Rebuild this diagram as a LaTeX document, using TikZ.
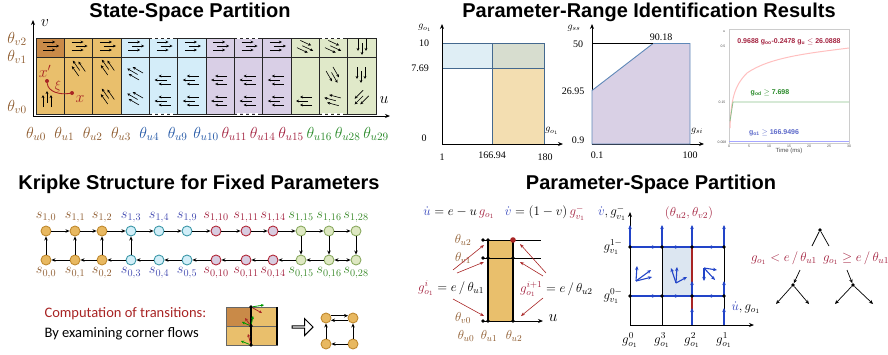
\documentclass[tikz,border=0pt]{standalone}
\usepackage{fix-cm}
\usepackage{amsmath}
\usepackage{fontspec}
\setmainfont{Liberation Serif}
\setsansfont{Liberation Sans}
\newfontfamily\calfont{Carlito}
\usetikzlibrary{arrows.meta,shapes.arrows}

\definecolor{oraC}{HTML}{E9BF6C}
\definecolor{dkC}{HTML}{C98A48}
\definecolor{bluC}{HTML}{D4EDF9}
\definecolor{lavC}{HTML}{D9CFE6}
\definecolor{grnC}{HTML}{E0E9C9}
\definecolor{thO}{HTML}{8E5B2E}
\definecolor{thB}{HTML}{2458A6}
\definecolor{thR}{HTML}{A3223F}
\definecolor{thG}{HTML}{2A8A2A}
\definecolor{redA}{HTML}{A82424}
\definecolor{eqB}{HTML}{3344BB}
\definecolor{flB}{HTML}{2244C8}
\definecolor{kfo}{HTML}{E8B860}\definecolor{kdo}{HTML}{C08A30}\definecolor{klo}{HTML}{8E5B2E}
\definecolor{kfb}{HTML}{D2EEF8}\definecolor{kdb}{HTML}{3C98A8}\definecolor{klb}{HTML}{4048B0}
\definecolor{kfr}{HTML}{D8CCE0}\definecolor{kdr}{HTML}{B22838}\definecolor{klr}{HTML}{A3223F}
\definecolor{kfg}{HTML}{DEE8C2}\definecolor{kdg}{HTML}{8AAA60}\definecolor{klg}{HTML}{3A8A2A}
\definecolor{pA}{HTML}{DFEEF5}
\definecolor{pG}{HTML}{D7DDCF}
\definecolor{pO}{HTML}{F3DEB1}
\definecolor{pL}{HTML}{44698F}
\definecolor{pV}{HTML}{D9D0E5}
\definecolor{pB}{HTML}{5F88B8}
\definecolor{cbg}{HTML}{DCE6F1}

\newcommand\fs[1]{\fontsize{#1}{#1}\selectfont}

\tikzset{flows/.pic={
  \draw[flw] (-7,-4) -- (5,-4);
  \draw[flw] (-3,0) -- (9,0);
  \draw[flw] (-7,4) -- (5,4);
}}

\begin{document}
\begin{tikzpicture}[x=1pt,y=-1pt,
  ttl/.style={font=\sffamily\bfseries\fs{20}},
  flw/.style={-{Stealth[length=3pt,width=2.8pt]},line width=0.6pt},
  cell/.style={draw=black!85,line width=1pt},
  axis/.style={-{Stealth[length=5pt,width=4pt]},line width=0.9pt},
  th/.style={font=\fs{16}},
  sm/.style={font=\fs{13},inner sep=1pt},
  num/.style={font=\fs{10},inner sep=1pt},
  st/.style={circle,line width=0.9pt,minimum size=10pt,inner sep=0pt},
  kar/.style={-{Stealth[length=4pt,width=3.5pt]},line width=0.9pt},
  rar/.style={redA,line width=0.6pt,-{Stealth[length=4pt,width=3pt]}},
  bfl/.style={flB,line width=1.1pt,-{Stealth[length=4pt,width=3.5pt]}},
  dot/.style={circle,fill=black,inner sep=0pt,minimum size=3.6pt},
  tny/.style={font=\sffamily\fs{3.5},text=black!70,inner sep=0.5pt}]
\useasboundingbox (0,0) rectangle (888,354);

% titles
\node[ttl] (ttlA) at (190,12) {State-Space Partition};
\node[ttl] (ttlB) at (649,12) {Parameter-Range Identification Results};
\node[ttl] (ttlC) at (199,184) {Kripke Structure for Fixed Parameters};
\node[ttl] (ttlD) at (651,184) {Parameter-Space Partition};

% state-space partition
\fill[oraC] (36,38) rectangle (121,114);
\fill[dkC] (36,38) rectangle (64.3,57);
\fill[bluC] (121,38) rectangle (206,114);
\fill[lavC] (206,38) rectangle (291,114);
\fill[grnC] (291,38) rectangle (376,114);
\draw[cell] (36,38) rectangle (376,114);
\draw[cell] (36,57) -- (376,57);
\foreach \i in {1,...,11}
  \draw[cell] ({36+28.333*\i},38) -- ++(0,76);
\foreach \i in {4,7,10}{
  \draw[white,line width=1.4pt,dash pattern=on 3pt off 3pt] ({36+28.333*\i+3},38) -- ++(22,0);
  \draw[white,line width=1.4pt,dash pattern=on 3pt off 3pt] ({36+28.333*\i+3},114) -- ++(22,0);
}
\draw[axis] (33,116) -- (33,20);
\draw[axis] (33,116) -- (390,116);
\node[th] (vlab) at (45,23) {$v$};
\node[th] (ulab) at (384,100) {$u$};
\node[th,text=thO] (v2) at (17,39) {$\theta_{v2}$};
\node[th,text=thO] (v1) at (17,57) {$\theta_{v1}$};
\node[th,text=thO] (v0) at (17,107) {$\theta_{v0}$};
\foreach \i/\n/\c in {0/0/thO,1/1/thO,2/2/thO,3/3/thO,4/4/thB,5/9/thB,6/10/thB,7/11/thR,8/14/thR,9/15/thR,10/16/thG,11/28/thG,12/29/thG}
  \node[th,text=\c] (u\n) at ({36+28.333*\i},134) {$\theta_{u\n}$};
% flows, top row
\foreach \i in {0,...,8}
  \pic at ({50.2+28.333*\i},46) {flows};
\pic[rotate=-25] at (305,47) {flows};
\pic[rotate=-25] at (333,47) {flows};
\pic[rotate=-90] at (362,46) {flows};
% flows, bottom row
\pic[rotate=90] at (47,100) {flows};
\pic[rotate=125] at (78,68) {flows};
\pic[rotate=125] at (107,67) {flows};
\pic[rotate=125] at (107,96) {flows};
\pic[rotate=150] at (135,73) {flows};
\pic[rotate=150] at (135,98) {flows};
\foreach \i in {4,...,8}{
  \pic[rotate=180] at ({50.2+28.333*\i},80) {flows};
  \pic[rotate=180] at ({50.2+28.333*\i},101) {flows};
}
\pic[rotate=180] at (305,101) {flows};
\pic[rotate=-60] at (333,75) {flows};
\pic[rotate=165] at (333,100) {flows};
\pic[rotate=-90] at (361,74) {flows};
\pic[rotate=-135] at (361,98) {flows};
% trajectory
\node[circle,fill=redA,inner sep=0pt,minimum size=4pt] (xp) at (47,81) {};
\node[circle,fill=redA,inner sep=0pt,minimum size=4pt] (xd) at (72,93) {};
\draw[redA,line width=0.9pt] (xp) .. controls (48,92) and (60,95) .. (xd);
\node[th,text=redA] (xpl) at (45,71) {$x'$};
\node[th,text=redA,font=\fs{13}] (xil) at (58,86) {$\xi$};
\node[th,text=redA] (xl) at (80,99) {$x$};

% parameter-range plot 1
\fill[pA] (442,43) rectangle (492,68);
\fill[pG] (492,43) rectangle (544,68);
\fill[pO] (492,68) rectangle (544,144);
\draw[pL,line width=0.9pt] (442,43) -- (544,43) (442,68) -- (544,68) (492,43) -- (492,144) (544,43) -- (544,144);
\draw[axis] (442,144) -- (442,24);
\draw[axis] (442,144) -- (563,144);
\node[num] (pa10) at (424,43) {10};
\node[num] (pa7) at (420,68) {7.69};
\node[num] (pa0) at (424,138) {0};
\node[num] (pa1) at (442,157) {1};
\node[num] (pa16) at (492,155) {166.94};
\node[num] (pa18) at (545,157) {180};
\node[num] (pay) at (425,28) {$g_{o_1}$};
\node[num] (pax) at (552,131) {$g_{o_1}$};

% parameter-range plot 2
\draw[axis] (592,144) -- (592,24);
\draw[axis] (592,144) -- (704,144);
\filldraw[fill=pV,draw=pB,line width=0.9pt] (592,144) -- (592,90.5) -- (653,43.5) -- (690,43.5) -- (690,144) -- cycle;
\draw[line width=1pt] (592,43.5) -- (653,43.5);
\node[num] (pb50) at (578,44) {50};
\node[num] (pb26) at (573,91) {26.95};
\node[num] (pb09) at (578,140) {0.9};
\node[num] (pb90) at (661,37) {90.18};
\node[num] (pb01) at (597,155) {0.1};
\node[num] (pb100) at (690,155) {100};
\node[num] (pby) at (574,28) {$g_{ss}$};
\node[num] (pbx) at (697,131) {$g_{si}$};

% parameter-range plot 3
\draw[black!20,line width=0.6pt] (729,29) rectangle (849,143);
\draw[red!25,line width=1pt] (730,128) .. controls (731,100) and (734,86) .. (747,73) .. controls (770,57) and (810,53) .. (849,48);
\draw[green!45!black!45,line width=0.8pt] (730,121) -- (733,102) -- (849,102);
\draw[blue!35,line width=0.8pt] (729,141) -- (849,141);
\node[font=\sffamily\bfseries\fs{7},text=thR] (c1) at (789,42) {0.9688 g\textsubscript{oo}-0.2478 g\textsubscript{u} $\le$ 26.0888};
\node[font=\sffamily\bfseries\fs{7},text=thG] (c2) at (770,93) {g\textsubscript{od} $\ge$ 7.698};
\node[font=\sffamily\bfseries\fs{7},text=eqB!80] (c3) at (774,133) {g\textsubscript{o1} $\ge$ 166.9496};
\node[tny] (cu) at (724,32) {u};
\node[tny] (c05) at (723,46) {0.5};
\node[tny] (c15) at (722,102) {0.15};
\node[tny] (c008) at (722,142) {0.008};
\foreach \k/\t in {0/0,1/5,2/10,3/15,4/20,5/25,6/30}
  \node[tny] (tk\k) at ({729+20*\k},146.5) {\t};
\node[font=\sffamily\fs{6},text=black!70,inner sep=0.5pt] (ctime) at (789,151) {Time (ms)};

% kripke structure
\foreach \x/\a/\b/\k [count=\i from 0] in {46/0/0/o,75/1/1/o,102/2/2/o,131/3/3/b,159/4/4/b,187/9/5/b,216/10/10/r,246/11/11/r,273/14/14/r,301/15/15/g,329/16/16/g,356/28/28/g}{
  \node[st,fill=kf\k,draw=kd\k,label={[font=\fs{14.5},text=kl\k,inner sep=1pt,label distance=1.5pt]above:{$s_{1,\a}$}}] (t\i) at (\x,231) {};
  \node[st,fill=kf\k,draw=kd\k,label={[font=\fs{14.5},text=kl\k,inner sep=1pt,label distance=1pt]below:{$s_{0,\b}$}}] (b\i) at (\x,260) {};
}
\foreach \i [count=\j from 1] in {0,...,10}
  \draw[kar] (t\i) -- (t\j);
\foreach \i [count=\j from 1] in {0,...,9}
  \draw[kar] (b\j) -- (b\i);
\draw[{Stealth[length=4pt,width=3.5pt]}-{Stealth[length=4pt,width=3.5pt]},line width=0.9pt] (b10) -- (b11);
\foreach \i in {0,1,2,3}
  \draw[kar] (b\i) -- (t\i);
\foreach \i in {9,10,11}
  \draw[kar] (t\i) -- (b\i);

% corner flows
\node[anchor=west,font=\calfont\fs{14.5},text=redA] (comp) at (41,314) {Computation of transitions:};
\node[anchor=west,font=\calfont\fs{14.5}] (exam) at (41,334) {By examining corner flows};
\fill[oraC] (226,307) rectangle (277,345);
\fill[dkC] (226,307) rectangle (251,326);
\draw[black!60,line width=0.6pt] (226,307) rectangle (277,345) (226,326) -- (277,326);
\draw[line width=1.2pt] (251,307) -- (251,345) (277,307) -- (277,345);
\node[dot] (cA) at (251,307) {};
\node[dot] (cB) at (251,326) {};
\node[dot] (cC) at (251,345) {};
\draw[green!60!black,line width=0.8pt,-{Stealth[length=3pt,width=3pt]}] (cA) -- (264,305);
\draw[redA,line width=0.8pt,-{Stealth[length=3pt,width=3pt]}] (cA) -- (262,313);
\draw[green!60!black,line width=0.8pt,-{Stealth[length=3pt,width=3pt]}] (cB) -- (253,316);
\draw[green!60!black,line width=0.8pt,-{Stealth[length=3pt,width=3pt]}] (cB) -- (242,322);
\draw[redA,line width=0.8pt,-{Stealth[length=3pt,width=3pt]}] (cB) -- (245,318);
\draw[redA,line width=0.8pt,-{Stealth[length=3pt,width=3pt]}] (cC) -- (248,334);
\draw[green!60!black,line width=0.8pt,-{Stealth[length=3pt,width=3pt]}] (cC) -- (241,341);
\node[single arrow,draw,fill=white,line width=1pt,minimum height=21pt,minimum width=17pt,single arrow head extend=3.5pt,inner sep=0pt] (imp) at (302,327) {};
\node[st,fill=kfo,draw=kdo] (q1) at (326,318) {};
\node[st,fill=kfo,draw=kdo] (q2) at (353,318) {};
\node[st,fill=kfo,draw=kdo] (q3) at (326,344) {};
\node[st,fill=kfo,draw=kdo] (q4) at (353,344) {};
\draw[kar,line width=0.8pt] (q1.25) -- (q2.155);
\draw[kar,line width=0.8pt] (q2.205) -- (q1.-25);
\draw[kar,line width=0.8pt] (q3) -- (q1);
\draw[kar,line width=0.8pt] (q4) -- (q2);
\draw[kar,line width=0.8pt] (q4) -- (q3);

% parameter-space partition: strip
\node[sm] (eqU) at (459,213) {$\textcolor{eqB}{\dot u} = e - u\,\textcolor{thR}{g_{o_1}}$};
\node[sm] (eqV) at (545,213) {$\textcolor{eqB}{\dot v} = (1-v)\,\textcolor{thR}{g^{-}_{v_1}}$};
\fill[oraC] (488,240) rectangle (513,321);
\draw[line width=1pt] (483,240) -- (541,240) (483,258) -- (541,258);
\draw[axis] (483,321) -- (543,321);
\draw[line width=1.3pt] (488,240) -- (488,321) (513,240) -- (513,321);
\foreach \p in {(483,240),(483,258),(483,321),(488,240),(488,258),(488,321),(513,258),(513,321)}
  \fill \p circle (1.8);
\fill[redA] (513,240) circle (2.8);
\node[sm,text=thO] (su2) at (463,240) {$\theta_{u2}$};
\node[sm,text=thO] (sv1) at (463,258) {$\theta_{v1}$};
\node[sm,text=thO] (sv0) at (463,318) {$\theta_{v0}$};
\node[sm,text=thO] (bu0) at (466,336) {$\theta_{u0}$};
\node[sm,text=thO] (bu1) at (489,336) {$\theta_{u1}$};
\node[sm,text=thO] (bu2) at (514,336) {$\theta_{u2}$};
\node[th] (su) at (553,318) {$u$};
\node[sm,anchor=west] (gi) at (417,288) {$\textcolor{thR}{g^{i}_{o_1}} = e\,/\,\theta_{u1}$};
\node[sm,anchor=west] (gi1) at (519,289) {$\textcolor{thR}{g^{i+1}_{o_1}} = e\,/\,\theta_{u2}$};
\coordinate (la) at (453,270);
\coordinate (lb) at (457,273);
\coordinate (lc) at (453,299);
\coordinate (ra) at (546,273);
\coordinate (rb) at (543,276);
\coordinate (rc) at (543,298);
\draw[rar] (la) -- (484,245);
\draw[rar] (lb) -- (484,262);
\draw[rar] (lc) -- (484,316);
\draw[rar] (ra) -- (520,244);
\draw[rar] (rb) -- (520,262);
\draw[rar] (rc) -- (521,316);

% parameter-space partition: grid
\fill[cbg] (662,247) rectangle (692,296);
\draw[line width=0.7pt] (662,325) -- (662,247) (724,325) -- (724,247) (630,247) -- (724,247) (630,296) -- (724,296);
\draw[redA,line width=1.1pt] (692,325) -- (692,247);
\draw[axis] (630,325) -- (630,212);
\draw[axis] (630,325) -- (754,325);
\foreach \x in {630,662,692,724}
  \draw[bfl] (\x,247) -- (\x,225);
\foreach \y in {247,296}{
  \draw[flB,line width=1.1pt] (630,\y) -- (724,\y);
  \draw[bfl] (630,\y) -- (656,\y);
  \draw[bfl] (662,\y) -- (679,\y);
  \draw[bfl] (724,\y) -- (708,\y);
}
\foreach \x in {692,724}{
  \draw[bfl] (\x,296) -- (\x,281);
  \draw[bfl] (\x,325) -- (\x,308);
}
\foreach \x in {630,662,692,724}{
  \fill (\x,247) circle (1.8);
  \fill (\x,296) circle (1.8);
}
\draw[bfl] (636,281) -- (637,266);
\draw[bfl] (636,281) -- (651,270);
\draw[bfl] (636,281) -- (652,277);
\draw[bfl] (676,283) -- (671,268);
\draw[bfl] (676,283) -- (677,267);
\draw[bfl] (676,283) -- (687,277);
\draw[bfl] (704,268) -- (715,280);
\draw[bfl] (704,268) -- (704,281);
\draw[bfl] (704,268) -- (717,270);
\node[sm] (ga) at (612,213) {$\textcolor{eqB}{\dot v}, g^{-}_{v_1}$};
\node[sm,text=thR] (gtop) at (689,213) {$(\theta_{u2},\theta_{v2})$};
\node[sm] (g1m) at (613,247) {$g^{1-}_{v_1}$};
\node[sm] (g0m) at (613,296) {$g^{0-}_{v_1}$};
\node[sm] (gu) at (746,308) {$\textcolor{eqB}{\dot u}, g_{o_1}$};
\foreach \x/\n in {630/0,662/3,692/2,724/1}
  \node[sm] (go\n) at (\x,340) {$g^{\n}_{o_1}$};

% parameter-space partition: tree
\node[dot] (root) at (820,230) {};
\coordinate (rl) at (812,246);
\coordinate (rr) at (829,246);
\draw[line width=0.7pt] (root) -- (rl) (root) -- (rr);
\node[sm,text=thR] (tlc) at (784,258) {$g_{o_1} < e\,/\,\theta_{u1}$};
\node[sm,text=thR] (trc) at (856,258) {$g_{o_1} \ge e\,/\,\theta_{u1}$};
\node[dot] (nl) at (793,285) {};
\node[dot] (nr) at (853,285) {};
\coordinate (al) at (800,270);
\coordinate (ar) at (847,270);
\draw[kar,line width=0.7pt] (al) -- (nl);
\draw[kar,line width=0.7pt] (ar) -- (nr);
\coordinate (lf1) at (776,304);
\coordinate (lf2) at (809,304);
\coordinate (lf3) at (835,304);
\coordinate (lf4) at (873,304);
\draw[kar,line width=0.7pt] (nl) -- (lf1);
\draw[kar,line width=0.7pt] (nl) -- (lf2);
\draw[kar,line width=0.7pt] (nr) -- (lf3);
\draw[kar,line width=0.7pt] (nr) -- (lf4);
\end{tikzpicture}
\end{document}
